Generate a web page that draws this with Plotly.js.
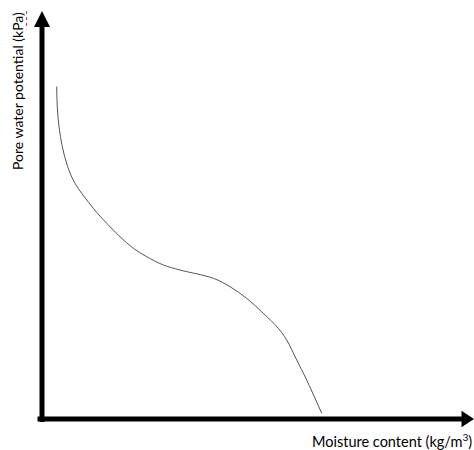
<!DOCTYPE html>
<html>
<head>
<meta charset="utf-8">
<script src="https://cdn.plot.ly/plotly-3.0.1.min.js"></script>
<style>html,body{margin:0;padding:0;background:#fff;}#chart{width:474px;height:450px;}</style>
</head>
<body>
<div id="chart"></div>
<script>
// Moisture content (relative units) and pore water potential (relative units)
const moisture = [3.40, 3.54, 3.94, 4.70, 5.95, 7.64, 11.88, 14.98, 18.06, 21.13, 24.24, 28.08, 31.94, 39.65, 43.52, 47.38, 51.23, 54.70, 56.64, 58.96, 61.27, 64.75];
const potential = [81.45, 76.54, 71.64, 66.74, 61.84, 57.77, 51.64, 47.97, 44.68, 41.84, 39.78, 37.75, 36.52, 34.49, 32.43, 29.58, 25.91, 22.23, 19.36, 14.46, 9.56, 1.40];
const xLabel = 'Moisture content (kg/m<sup>3</sup>)';
const yLabel = 'Pore water potential (kPa)';

const trace = {
  x: moisture, y: potential, type: 'scatter', mode: 'lines',
  line: {color: '#555555', width: 1, shape: 'spline', smoothing: 1},
  hoverinfo: 'skip'
};

const layout = {
  width: 474, height: 450,
  margin: {l: 42, r: 0, t: 11, b: 31, pad: 0},
  paper_bgcolor: '#ffffff', plot_bgcolor: '#ffffff',
  showlegend: false,
  xaxis: {range: [0, 100], visible: false, fixedrange: true},
  yaxis: {range: [0, 100], visible: false, fixedrange: true},
  font: {family: 'Lato, "Open Sans", sans-serif', color: '#000000', size: 14},
  shapes: [
    {type: 'line', xref: 'paper', yref: 'paper', x0: 0, x1: 0, y0: -0.0074, y1: 0.962,
     line: {color: '#000000', width: 5}, layer: 'above'},
    {type: 'path', xref: 'paper', yref: 'paper',
     path: 'M -0.0185,0.9608 L 0,1 L 0.0185,0.9608 Z',
     fillcolor: '#000000', line: {color: '#000000', width: 0}, layer: 'above'},
    {type: 'line', xref: 'paper', yref: 'paper', x0: -0.0104, x1: 0.972, y0: 0, y1: 0,
     line: {color: '#000000', width: 5}, layer: 'above'},
    {type: 'path', xref: 'paper', yref: 'paper',
     path: 'M 0.971,-0.0203 L 1,0 L 0.971,0.0203 Z',
     fillcolor: '#000000', line: {color: '#000000', width: 0}, layer: 'above'},
    {type: 'line', xref: 'paper', yref: 'paper', x0: -0.036, x1: -0.036, y0: 1.0, y1: 0.955,
     line: {color: '#e03030', width: 1, dash: 'dot'}, layer: 'above'}
  ],
  annotations: [
    {text: yLabel, xref: 'paper', yref: 'paper', x: -0.0556, y: 0.804,
     textangle: -90, showarrow: false, xanchor: 'center', yanchor: 'middle',
     font: {size: 14}},
    {text: xLabel, xref: 'paper', yref: 'paper', x: 0.81, y: -0.052,
     showarrow: false, xanchor: 'center', yanchor: 'middle', font: {size: 14.5}}
  ]
};

Plotly.newPlot('chart', [trace], layout, {displayModeBar: false, staticPlot: true});
</script>
</body>
</html>
